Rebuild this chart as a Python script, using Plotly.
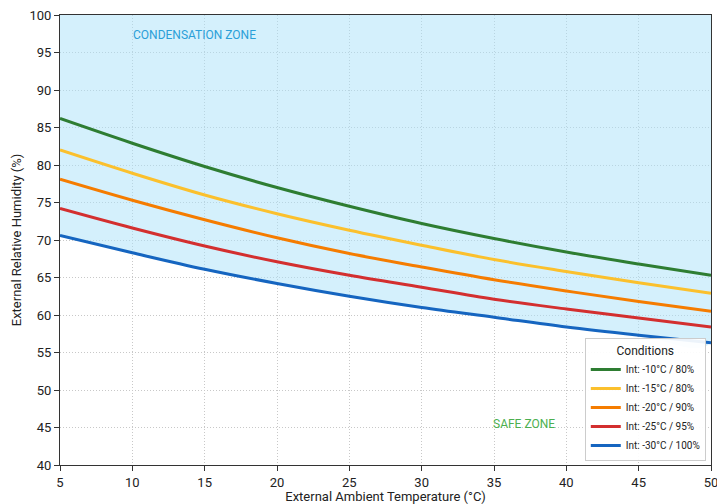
import plotly.graph_objects as go

temps = [5, 10, 15, 20, 25, 30, 35, 40, 45, 50]
rh_m10_80 = [86.2, 82.9, 79.8, 77.0, 74.5, 72.2, 70.2, 68.4, 66.8, 65.3]
rh_m15_80 = [82.0, 78.9, 76.0, 73.5, 71.3, 69.3, 67.4, 65.8, 64.3, 62.9]
rh_m20_90 = [78.1, 75.3, 72.7, 70.3, 68.2, 66.4, 64.7, 63.2, 61.8, 60.5]
rh_m25_95 = [74.2, 71.6, 69.2, 67.1, 65.3, 63.7, 62.1, 60.8, 59.6, 58.4]
rh_m30_100 = [70.6, 68.3, 66.1, 64.2, 62.5, 61.0, 59.7, 58.4, 57.3, 56.3]

series_names = ["Int: -10°C / 80%", "Int: -15°C / 80%", "Int: -20°C / 90%",
                "Int: -25°C / 95%", "Int: -30°C / 100%"]
series_vals = [rh_m10_80, rh_m15_80, rh_m20_90, rh_m25_95, rh_m30_100]
colors = ["#2e7d32", "#fbc02d", "#f57c00", "#d32f2f", "#1565c0"]

Y_MIN, Y_MAX = 40, 100

fig = go.Figure()

# condensation zone fill: between lowest curve and top of axis
fig.add_trace(go.Scatter(
    x=temps + temps[::-1],
    y=rh_m30_100 + [Y_MAX] * len(temps),
    fill="toself", fillcolor="rgba(170,225,250,0.5)",
    line=dict(width=0, shape="spline"), mode="lines", showlegend=False,
    hoverinfo="skip"))

for name, vals, c in zip(series_names, series_vals, colors):
    fig.add_trace(go.Scatter(x=temps, y=vals, name=name, mode="lines",
                             line=dict(color=c, width=3, shape="spline")))

fig.add_annotation(x=14.3, y=97.3, text="CONDENSATION ZONE", showarrow=False,
                   font=dict(color="#2a9fd8", size=12))
fig.add_annotation(x=37.1, y=45.5, text="SAFE ZONE", showarrow=False,
                   font=dict(color="#4caf50", size=12))

axis_common = dict(showline=True, linecolor="#333", linewidth=1, mirror=True,
                   ticks="outside", ticklen=5, tickcolor="#333",
                   showgrid=True, gridcolor="#c8c8c8", griddash="1px,2px",
                   zeroline=False, tickfont=dict(size=13, color="#222"),
                   ticklabeloverflow="allow")

fig.update_xaxes(range=[5, 50], dtick=5,
                 title=dict(text="External Ambient Temperature (°C)", font=dict(size=13), standoff=3),
                 **axis_common)
fig.update_yaxes(range=[Y_MIN, Y_MAX], dtick=5,
                 title=dict(text="External Relative Humidity (%)", font=dict(size=13), standoff=4),
                 **axis_common)

fig.update_layout(
    width=717, height=504,
    margin=dict(l=60, r=6, t=15, b=39, autoexpand=False),
    plot_bgcolor="white", paper_bgcolor="white",
    font=dict(family="Roboto, sans-serif", color="#222"),
    legend=dict(title=dict(text="Conditions", side="top center", font=dict(size=12)),
                x=0.992, y=0.008, xanchor="right", yanchor="bottom",
                bgcolor="rgba(255,255,255,0.92)", bordercolor="#cccccc", borderwidth=1,
                font=dict(size=10), itemwidth=30, tracegroupgap=0),
)

fig.write_html("out.html", config={"displayModeBar": False},
               post_script="document.body.style.margin='0';")
